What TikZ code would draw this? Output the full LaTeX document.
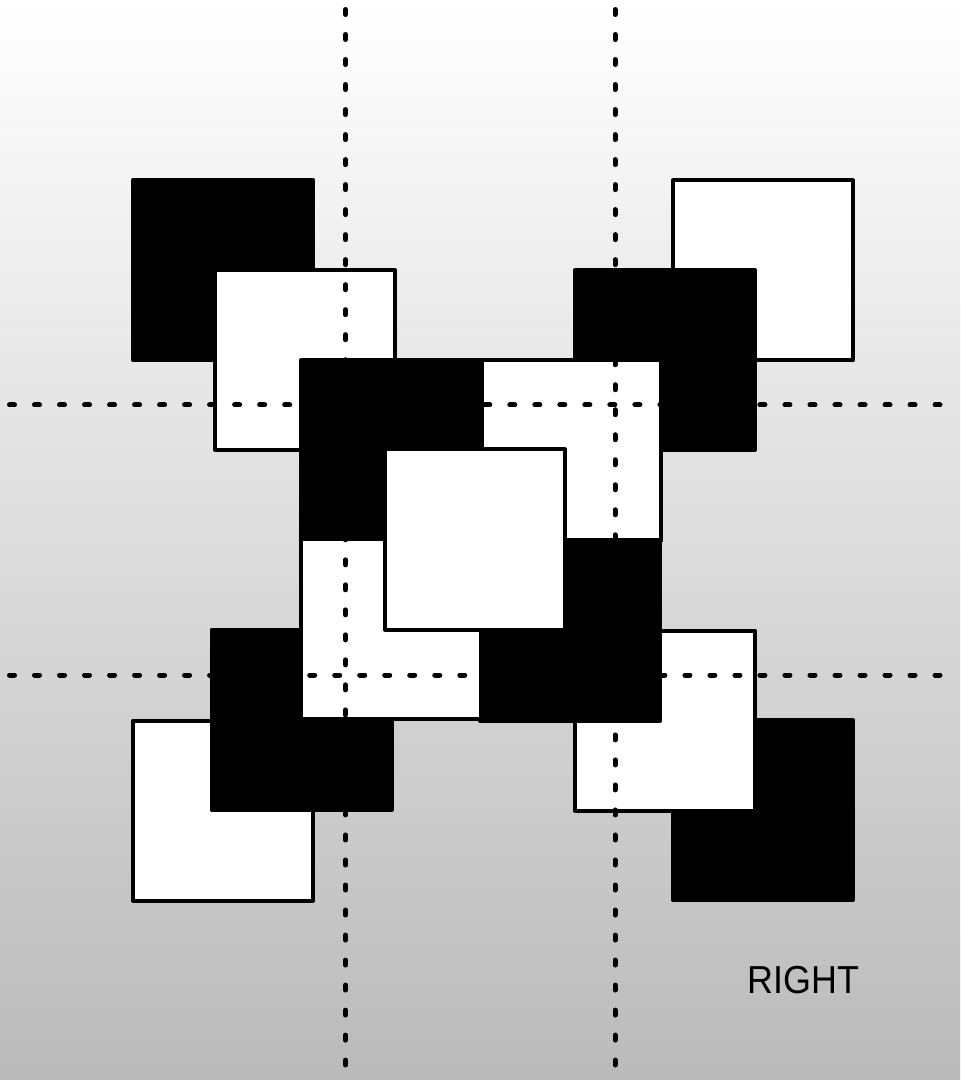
\documentclass[tikz,border=0pt]{standalone}
\usepackage{fontspec}
\setmainfont{Liberation Sans}

\tikzset{
  blacksq/.style={fill=black, draw=black, line width=0.04cm, line join=round},
  whitesq/.style={fill=white, draw=black, line width=0.04cm, line join=round},
  guide/.style={line width=0.05cm, line cap=round, dash pattern=on 0.05cm off 0.2cm}
}

\begin{document}
\begin{tikzpicture}[x=0.01cm, y=-0.01cm]
    % Background
    \shade[top color=white, bottom color=black!27] (0,0) rectangle (960,1080);

    % Upper left pair
    \draw[blacksq] (133,180) rectangle (313,360);
    \draw[whitesq] (215,270) rectangle (395,450);

    % Upper right pair
    \draw[whitesq] (673,180.5) rectangle (853,360.5);
    \draw[blacksq] (575,270) rectangle (755,450);

    % Centre, top row
    \draw[whitesq] (481,360.5) rectangle (661,540.5);
    \draw[blacksq] (301,360.5) rectangle (482,540.5);

    % Lower right pair
    \draw[blacksq] (673,720) rectangle (853,900);
    \draw[whitesq] (575,630.5) rectangle (755,810.5);
    \draw[blacksq] (480,541) rectangle (660,721);

    % Lower left pair
    \draw[whitesq] (133,720.5) rectangle (313,900.5);
    \draw[blacksq] (211.5,630) rectangle (391.5,810);
    \draw[whitesq] (301,539) rectangle (481,719);

    % Middle square on top
    \draw[whitesq] (385,449.5) rectangle (565,629.5);

    % Dotted guides
    \draw[guide] (345.5,9.5) -- (345.5,1065);
    \draw[guide] (615,9.5) -- (615,1065);
    \draw[guide] (9.5,405) -- (940,405);
    \draw[guide] (9.5,675) -- (940,675);

    \node[anchor=base west, inner sep=0pt, xscale=0.92, transform shape,
          font=\fontsize{11.1}{13}\selectfont] (side) at (747,993) {RIGHT};
\end{tikzpicture}
\end{document}
